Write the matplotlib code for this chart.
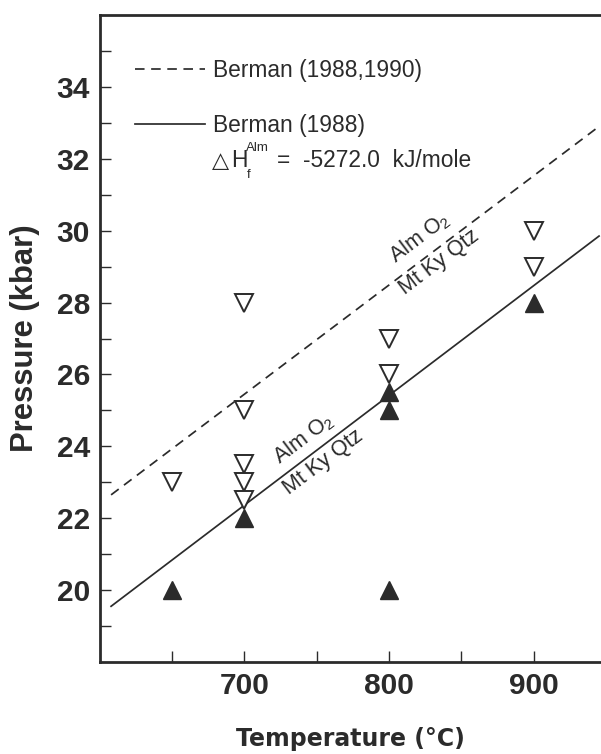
import matplotlib
matplotlib.use('Agg')
import matplotlib.pyplot as plt
from matplotlib.ticker import FixedLocator, NullFormatter

# ── Data ─────────────────────────────────────────────────────────────────────
open_T = [650, 700, 700, 700, 700, 700, 800, 800, 900, 900]
open_P = [23, 28, 25, 23.5, 23, 22.5, 27, 26, 30, 29]
filled_T = [650, 700, 800, 800, 800, 900]
filled_P = [20, 22, 25.5, 25, 20, 28]

line_T = [608, 945]
solid_P = [19.55, 29.85]      # Berman (1988)
dashed_P = [22.65, 32.9]      # Berman (1988,1990)

x_major = [700, 800, 900]
x_minor = [650, 750, 850]
y_major = [20, 22, 24, 26, 28, 30, 32, 34]
y_minor = [19, 21, 23, 25, 27, 29, 31, 33, 35]

INK = '#2b2b2b'
W, H = 601, 754

plt.rcParams['font.family'] = ['Liberation Sans', 'DejaVu Sans']
plt.rcParams['mathtext.fontset'] = 'custom'
plt.rcParams['mathtext.rm'] = 'Liberation Sans'

def px(x, y):
    # image pixel (from top-left) -> figure fraction
    return x / W, 1 - y / H

fig = plt.figure(figsize=(W / 100, H / 100), dpi=100)
ax = fig.add_axes([99.5 / W, 92 / H, (601.5 - 99.5) / W, 647 / H])

# ── Lines ────────────────────────────────────────────────────────────────────
ax.plot(line_T, dashed_P, color=INK, lw=1.25, dashes=(5.5, 3.8),
        label='Berman (1988,1990)', zorder=2)
ax.plot(line_T, solid_P, color=INK, lw=1.25, label='Berman (1988)', zorder=2)

# ── Markers ──────────────────────────────────────────────────────────────────
ax.plot(open_T, open_P, ls='none', marker='v', ms=13.5, mfc='white',
        mec=INK, mew=1.4, zorder=3)
ax.plot(filled_T, filled_P, ls='none', marker='^', ms=13.5, mfc=INK,
        mec=INK, mew=1.0, zorder=4)

# ── Reaction labels ──────────────────────────────────────────────────────────
lab = dict(fontsize=15.5, color=INK, rotation=37, ha='center', va='center',
           rotation_mode='anchor')
ax.text(741, 24.2, r'Alm O$_\mathrm{2}$', **lab)
ax.text(754.5, 23.57, 'Mt Ky Qtz', **lab)
ax.text(821, 29.8, r'Alm O$_\mathrm{2}$', **lab)
ax.text(834.5, 29.13, 'Mt Ky Qtz', **lab)

# ── Axes styling ─────────────────────────────────────────────────────────────
ax.set_xlim(600, 946.7)
ax.set_ylim(18, 36)
for side in ['left', 'bottom', 'top', 'right']:
    ax.spines[side].set_linewidth(2.0)
    ax.spines[side].set_color(INK)

ax.xaxis.set_major_locator(FixedLocator(x_major))
ax.xaxis.set_minor_locator(FixedLocator(x_minor))
ax.yaxis.set_major_locator(FixedLocator(y_major))
ax.yaxis.set_minor_locator(FixedLocator(y_minor))
ax.xaxis.set_minor_formatter(NullFormatter())
ax.yaxis.set_minor_formatter(NullFormatter())
ax.tick_params(which='both', direction='in', length=7.7, width=1.0,
               color=INK, top=False, right=False)
ax.tick_params(axis='x', which='major', pad=7.5)
ax.tick_params(axis='y', which='major', pad=6.8)
for t in ax.get_xticklabels() + ax.get_yticklabels():
    t.set_fontsize(21.5)
    t.set_fontweight('bold')
    t.set_color(INK)

ax.set_ylabel('Pressure (kbar)', fontsize=22.3, fontweight='bold', color=INK)
ax.yaxis.set_label_coords(-0.1187, 0.5)
ax.set_xlabel('Temperature (°C)', fontsize=17, fontweight='bold',
              color=INK, family='DejaVu Sans')
ax.xaxis.set_label_coords(0.5, -0.1)

# ── Legend ───────────────────────────────────────────────────────────────────
leg = ax.legend(loc='upper left', bbox_to_anchor=px(135, 58.5),
                bbox_transform=fig.transFigure, frameon=False,
                fontsize=16.4, handlelength=3.07, handletextpad=0.35,
                labelspacing=1.43, borderpad=0, borderaxespad=0)
for t in leg.get_texts():
    t.set_color(INK)

# ΔH line
fs = 16.4
fig.text(*px(212, 167), '△', fontsize=16, color=INK, family='DejaVu Sans',
         va='baseline')
fig.text(*px(231, 167), 'H', fontsize=fs, color=INK, va='baseline')
fig.text(*px(245.5, 151), 'Alm', fontsize=9.5, color=INK, va='baseline')
fig.text(*px(246.5, 178), 'f', fontsize=9.5, color=INK, va='baseline')
fig.text(*px(277, 167), '=  -5272.0  kJ/mole', fontsize=fs, color=INK,
         va='baseline')

fig.savefig('out.png', dpi=100)
